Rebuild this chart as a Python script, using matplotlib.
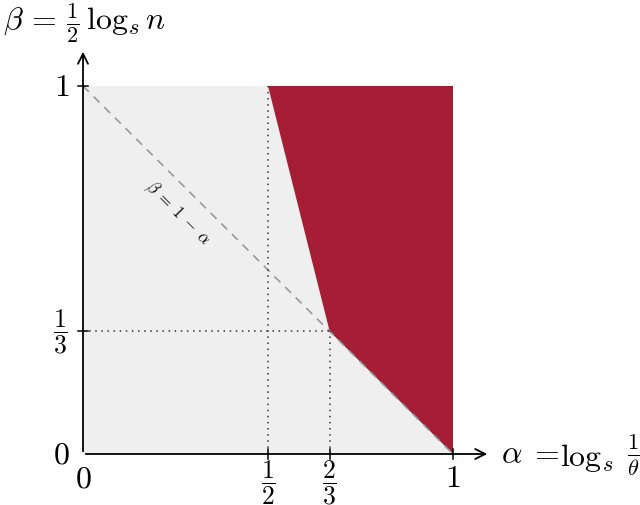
import matplotlib
matplotlib.use("Agg")
import matplotlib.pyplot as plt
from matplotlib.patches import Polygon, Rectangle

plt.rcParams['mathtext.fontset'] = 'cm'
plt.rcParams['font.family'] = 'serif'
plt.rcParams['font.serif'] = ['DejaVu Serif']

# data
region_x = [0.5, 1.0, 1.0, 2/3]
region_y = [1.0, 1.0, 0.0, 1/3]
diag_x = [0.0, 1.0]
diag_y = [1.0, 0.0]
xticks = [0, 0.5, 2/3, 1]
xtick_labels = [r'$0$', r'$\dfrac{1}{2}$', r'$\dfrac{2}{3}$', r'$1$']
yticks = [0, 1/3, 1]
ytick_labels = [r'$0$', r'$\dfrac{1}{3}$', r'$1$']

W, H = 640, 506
fig = plt.figure(figsize=(W/100, H/100), dpi=100)
ax = fig.add_axes([0, 0, 1, 1])
ox, oy = 83, 455
sx, sy = 370, 368
ax.set_xlim((0 - ox)/sx, (W - ox)/sx)
ax.set_ylim((oy - H)/sy, oy/sy)
ax.axis('off')

ax.add_patch(Rectangle((0, 0), 1, 1, facecolor='#efefef', edgecolor='none', zorder=1))
ax.add_patch(Polygon(list(zip(region_x, region_y)), closed=True,
                     facecolor='#a51e36', edgecolor='none', zorder=2))
ax.plot(diag_x, diag_y, color='#999999', lw=1.2, ls=(0, (5, 4)), zorder=3)

# dotted guides
ax.plot([0.5, 0.5], [0, 1], color='#333333', lw=1.1, ls=(0, (1, 3)), zorder=3)
ax.plot([2/3, 2/3], [0, 1/3], color='#333333', lw=1.1, ls=(0, (1, 3)), zorder=3)
ax.plot([0, 2/3], [1/3, 1/3], color='#333333', lw=1.1, ls=(0, (1, 3)), zorder=3)

# axes arrows
ax.annotate('', xy=((490 - ox)/sx, 0), xytext=(0, 0),
            arrowprops=dict(arrowstyle='->', lw=1.3, color='black', mutation_scale=18), zorder=5)
ax.annotate('', xy=(0, (oy - 50)/sy), xytext=(0, 0),
            arrowprops=dict(arrowstyle='->', lw=1.3, color='black', mutation_scale=18), zorder=5)

# ticks
tl = 5/sy
for xt in xticks[1:]:
    ax.plot([xt, xt], [-tl, tl], color='black', lw=1.1, zorder=5)
for yt in yticks[1:]:
    ax.plot([-5/sx, 5/sx], [yt, yt], color='black', lw=1.1, zorder=5)

fs = 23
ffs = 18.5
ax.text(0, -24/sy, xtick_labels[0], ha='center', va='center', fontsize=fs)
ax.text(1, -24/sy, xtick_labels[3], ha='center', va='center', fontsize=fs)
for xt, lab in zip(xticks[1:3], xtick_labels[1:3]):
    ax.text(xt, -28/sy, lab, ha='center', va='center', fontsize=ffs)
ax.text(-13/sx, 1, ytick_labels[2], ha='right', va='center', fontsize=fs)
ax.text(-13/sx, 0, ytick_labels[0], ha='right', va='center', fontsize=fs)
ax.text(-15/sx, 1/3, ytick_labels[1], ha='right', va='center', fontsize=ffs)

ax.text((501 - ox)/sx, 0, r'$\alpha\;=$', ha='left', va='center', fontsize=fs)
ax.text((560 - ox)/sx, -3/sy, r'$\log_s$', ha='left', va='center', fontsize=fs)
ax.text((627 - ox)/sx, 0, r'$\frac{1}{\theta}$', ha='left', va='center', fontsize=fs)
ax.text((3 - ox)/sx, (oy - 23)/sy, r'$\beta\,=\,\frac{1}{2}\,\log_s n$', ha='left', va='center', fontsize=fs)

ax.text((178 - ox)/sx, (oy - 213)/sy, r'$\beta\;=\;1\;-\;\alpha$', rotation=-45,
        rotation_mode='anchor', ha='center', va='center', fontsize=12)

fig.savefig('out.png', dpi=100)
